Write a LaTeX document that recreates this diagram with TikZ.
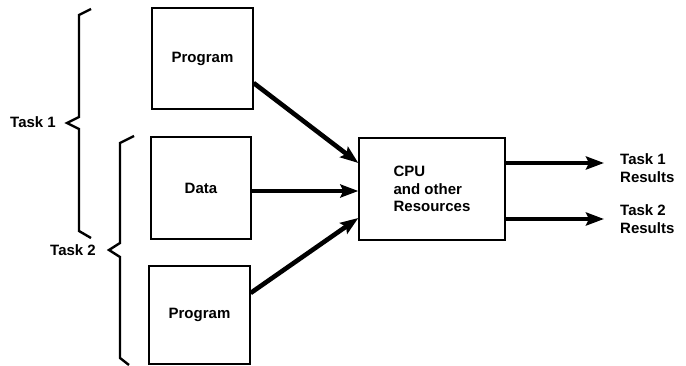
\documentclass[tikz,border=0pt]{standalone}
\usepackage{fontspec}
\setmainfont{Liberation Sans}
\usetikzlibrary{arrows.meta,positioning}

\begin{document}
\begin{tikzpicture}[x=1pt, y=-1pt,
  font=\fontsize{15}{17.5}\selectfont\bfseries,
  nd/.style={inner sep=0pt, align=left},
  bx/.style={draw, line width=1.3pt, minimum width=101pt, minimum height=101pt, inner sep=0pt},
  br/.style={line width=2.4pt, line join=miter},
  fl/.style={-{Stealth[length=18pt, width=13pt, inset=3pt]}, line width=4.6pt}]
  \useasboundingbox (0,0) rectangle (686,366);
  % entradas
  \node[bx] (prog1) at (202.5,58.5) {Program};
  \node[bx, minimum width=100pt, minimum height=102pt] (data) at (201,188) {Data};
  \node[bx, minimum height=98pt] (prog2) at (199.5,315) {Program};
  % procesador
  \node[bx, minimum width=146pt, minimum height=102pt, align=left] (cpu) at (432,189)
    {CPU\\and other\\Resources};
  % resultados
  \node[nd, anchor=west] (res1) at (620,168) {Task 1\\Results};
  \node[nd, anchor=west] (res2) at (620,219) {Task 2\\Results};
  \coordinate (o1) at (604,163);
  \coordinate (o2) at (604,219);
  % tareas
  \node[nd, anchor=west] (t1) at (10,122) {Task 1};
  \node[nd, anchor=west] (t2) at (50,250) {Task 2};
  \draw[br] (91,9) -- (79,15) -- (79,117) -- (67,123) -- (79,129) -- (79,231) -- (91,238);
  \draw[br] (134,136) -- (120,143) -- (120,243) -- (109,250) -- (120,257) -- (120,358) -- (129,365);
  % flechas
  \draw[fl] (prog1.east |- 0,83) -- (cpu.west |- 0,163);
  \draw[fl] (data.east |- 0,191) -- (cpu.west |- 0,191);
  \draw[fl] (prog2.east |- 0,293) -- (cpu.west |- 0,218);
  \draw[fl] (cpu.east |- o1) -- (o1);
  \draw[fl] (cpu.east |- o2) -- (o2);
\end{tikzpicture}
\end{document}
